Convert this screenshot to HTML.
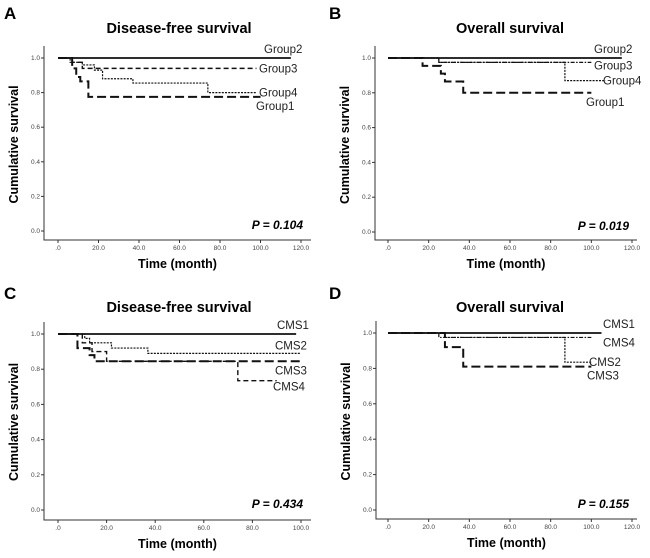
<!DOCTYPE html>
<html><head><meta charset="utf-8">
<style>
body{margin:0;background:#fff;width:650px;height:558px;overflow:hidden;font-family:"Liberation Sans",sans-serif}
svg{display:block}
</style></head>
<body>
<svg id="fig" width="650" height="558" viewBox="0 0 650 558"></svg>
<script>
// Panel A data (Disease-free survival, groups)
const aNames=["Group2","Group3","Group4","Group1"];
const aTimes=[[0],[0,7,12],[0,6,12,18,22,37,74],[0,7,9,11,15]];
const aVals=[[1.0],[1.0,0.975,0.94],[1.0,0.975,0.96,0.93,0.88,0.855,0.80],[1.0,0.94,0.89,0.865,0.775]];
const aEnds=[115,98,98,100];
// Panel B data (Overall survival, groups)
const bNames=["Group2","Group3","Group4","Group1"];
const bTimes=[[0],[0,25],[0,25,87],[0,17,26,28,37]];
const bVals=[[1.0],[1.0,0.975],[1.0,0.975,0.87],[1.0,0.955,0.91,0.865,0.80]];
const bEnds=[115,100,107,100];
// Panel C data (Disease-free survival, CMS)
const cNames=["CMS1","CMS2","CMS3","CMS4"];
const cTimes=[[0],[0,11,13,22,37],[0,8,13,15],[0,10,14,20,74]];
const cVals=[[1.0],[1.0,0.975,0.95,0.92,0.89],[1.0,0.92,0.88,0.845],[1.0,0.95,0.9,0.845,0.735]];
const cEnds=[98,100,100,90];
// Panel D data (Overall survival, CMS)
const dNames=["CMS1","CMS4","CMS2","CMS3"];
const dTimes=[[0],[0,25],[0,28,87],[0,28,37]];
const dVals=[[1.0],[1.0,0.975],[1.0,0.975,0.835],[1.0,0.92,0.81]];
const dEnds=[105,100,100,100];
const yTicks=[0,0.2,0.4,0.6,0.8,1.0];
const yTickLabels=["0.0","0.2","0.4","0.6","0.8","1.0"];
const xTicks120=[0,20,40,60,80,100,120];
const xTicks100=[0,20,40,60,80,100];
const xTickLabels120=[".0","20.0","40.0","60.0","80.0","100.0","120.0"];
const xTickLabels100=[".0","20.0","40.0","60.0","80.0","100.0"];

const NS="http://www.w3.org/2000/svg";
const svg=document.getElementById('fig');
function mk(tag,attrs,parent){const e=document.createElementNS(NS,tag);for(const k in attrs)e.setAttribute(k,attrs[k]);(parent||svg).appendChild(e);return e;}
const STY={solid:{w:1.7,d:""},dash:{w:1.4,d:"5,3"},dot:{w:1.2,d:"2,1.2"},long:{w:2,d:"9,4"},dashdot:{w:1.2,d:"4,1.5,1.5,1.5"}};

function panel(p){
  const g=mk('g',{});
  
  
  const sx=v=>p.x0+v*(p.xEnd-p.x0)/p.xMax;
  const sy=v=>p.y0+v*(p.y1-p.y0);
  const L=mk('text',{x:p.lx,y:p.ly,'font-size':17,'font-weight':'bold'},g);L.textContent=p.letter;
  
  const T=mk('text',{x:p.tx,y:p.ty,'font-size':14.5,'font-weight':'bold','text-anchor':'middle'},g);T.textContent=p.title;
  
  const ax=mk('path',{d:`M${p.ax},${p.y1-12}V${p.ab}H${p.axR}`,stroke:'#333',fill:'none','stroke-width':1},g);
  
  yTicks.forEach((v,i)=>{
    mk('line',{x1:p.ax-3,x2:p.ax,y1:sy(v),y2:sy(v),stroke:'#333'},g);
    const t=mk('text',{x:p.ax-4,y:sy(v)+2,'font-size':6.5,'text-anchor':'end',fill:'#444'},g);t.textContent=yTickLabels[i];
    
  });
  p.xt.forEach((v,i)=>{
    mk('line',{x1:sx(v),x2:sx(v),y1:p.ab,y2:p.ab+3,stroke:'#333'},g);
    const t=mk('text',{x:sx(v),y:p.ab+10,'font-size':6.5,'text-anchor':'middle',fill:'#444'},g);t.textContent=p.xl[i];
    
  });
  const xt=mk('text',{x:(p.ax+p.axR)/2,y:p.ab+28,'font-size':12.5,'font-weight':'bold','text-anchor':'middle'},g);xt.textContent='Time (month)';
  
  const yt=mk('text',{x:0,y:0,'font-size':12.5,'font-weight':'bold','text-anchor':'middle',transform:`translate(${p.ax-26},${(p.y0+p.y1)/2}) rotate(-90)`},g);yt.textContent='Cumulative survival';
  
  const pv=mk('text',{x:p.axR-8,y:p.y0-2,'font-size':12,'font-weight':'bold','font-style':'italic','text-anchor':'end'},g);pv.textContent='P = '+p.pval;
  
  p.names.forEach((nm,si)=>{
    const ts=p.times[si],vs=p.vals[si];let d=`M${sx(ts[0])},${sy(vs[0])}`;
    for(let i=1;i<ts.length;i++){d+=`H${sx(ts[i])}V${sy(vs[i])}`;}
    d+=`H${sx(p.ends[si])}`;
    const st=STY[p.sty[si]];
    const path=mk('path',{d:d,stroke:'#111',fill:'none','stroke-width':st.w,'stroke-dasharray':st.d},g);
    
    const last=vs[vs.length-1];
    const lb=mk('text',{x:p.labX[si],y:sy(last)+p.labDy[si],'font-size':11.5,fill:'#222'},g);lb.textContent=nm;
    
  });
}
panel({letter:'A',lx:4,ly:19,title:'Disease-free survival',tx:179,ty:33,ax:44,axR:311,ab:240,x0:58,xEnd:301,xMax:120,y0:231,y1:58,xt:xTicks120,xl:xTickLabels120,pval:'0.104',sty:['solid','dash','dot','long'],
 names:aNames,times:aTimes,vals:aVals,ends:aEnds,labX:[264,259,259,256],labDy:[-5,4,4,13]});
panel({letter:'B',lx:329,ly:19,title:'Overall survival',tx:510,ty:33,ax:375,axR:637,ab:240,x0:388,xEnd:632,xMax:120,y0:232,y1:58,xt:xTicks120,xl:xTickLabels120,pval:'0.019',sty:['solid','dashdot','dot','long'],
 names:bNames,times:bTimes,vals:bVals,ends:bEnds,labX:[594,594,603,586],labDy:[-5,7,4,13]});
panel({letter:'C',lx:4,ly:299,title:'Disease-free survival',tx:179,ty:312,ax:44,axR:311,ab:520,x0:58,xEnd:301,xMax:100,y0:510,y1:334,xt:xTicks100,xl:xTickLabels100,pval:'0.434',sty:['solid','dot','long','dash'],
 names:cNames,times:cTimes,vals:cVals,ends:cEnds,labX:[277,275,275,273],labDy:[-5,-4,13,10]});
panel({letter:'D',lx:329,ly:299,title:'Overall survival',tx:510,ty:312,ax:376,axR:637,ab:519,x0:388,xEnd:632,xMax:120,y0:510,y1:333,xt:xTicks120,xl:xTickLabels120,pval:'0.155',sty:['solid','dashdot','dot','long'],
 names:dNames,times:dTimes,vals:dVals,ends:dEnds,labX:[603,603,589,587],labDy:[-5,9,4,13]});
</script>
</body></html>
